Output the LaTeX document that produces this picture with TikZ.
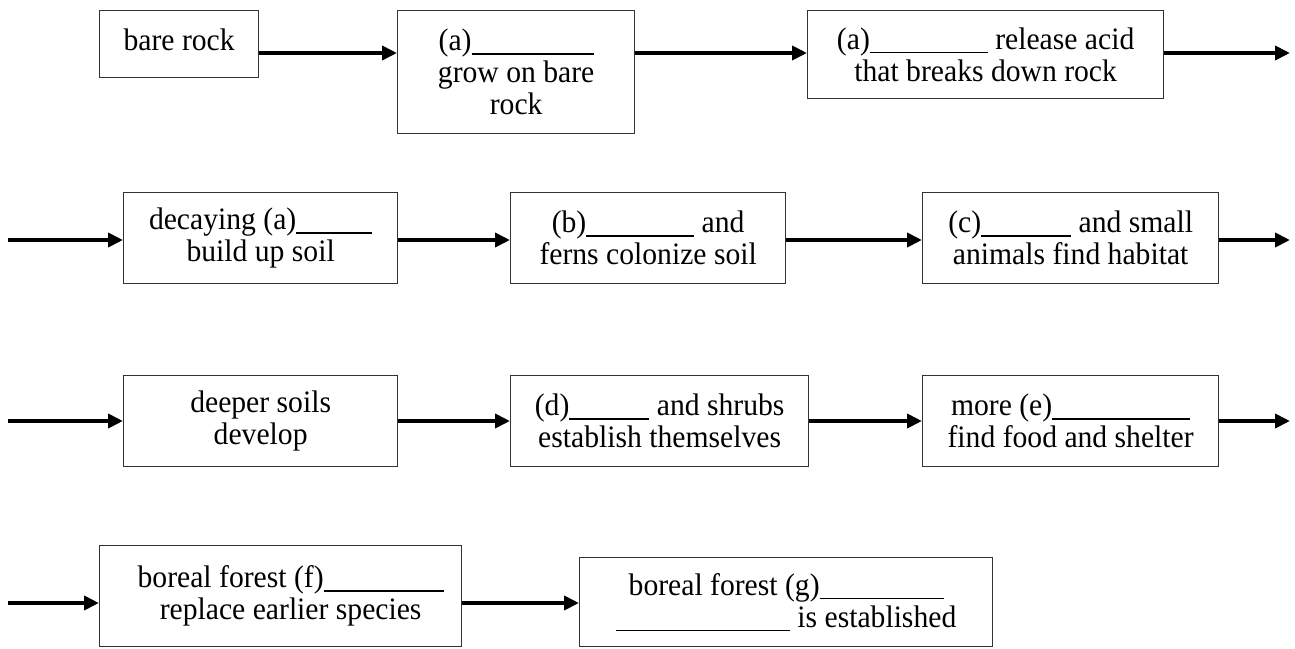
\documentclass[tikz,border=0pt]{standalone}
\usepackage{fontspec}
\setmainfont{Liberation Serif}[FakeStretch=0.95]
\usetikzlibrary{arrows.meta}
% fill-in blank of a given width (pt)
\newcommand\blank[1]{\rule[-4pt]{#1pt}{1.5pt}}
\begin{document}
\begin{tikzpicture}[x=1pt,y=-1pt,
  box/.style={draw=black!80, line width=1.3pt, anchor=north west, align=center,
    inner sep=0pt, font=\fontsize{31.2}{32}\selectfont},
  flow/.style={line width=3.8pt, -{Triangle[length=15pt,width=14pt]}}]
\useasboundingbox (0,0) rectangle (1295,648);

% row 1
\node[box, minimum width=159pt, minimum height=67pt] (b1) at (99,10)
  {\raisebox{9pt}{bare rock}};
\node[box, minimum width=237pt, minimum height=123pt] (b2) at (397,10)
  {(a)\blank{122}\\grow on bare\\rock};
\node[box, minimum width=356pt, minimum height=88pt] (b3) at (807,10)
  {(a)\blank{118} release acid\\that breaks down rock};

% row 2
\node[box, minimum width=274pt, minimum height=91pt] (b4) at (123,192)
  {decaying (a)\blank{76}\\build up soil};
\node[box, minimum width=275pt, minimum height=91pt] (b5) at (510,192)
  {(b)\blank{108} and\\ferns colonize soil};
\node[box, minimum width=296pt, minimum height=91pt] (b6) at (922,192)
  {(c)\blank{90} and small\\animals find habitat};

% row 3
\node[box, minimum width=274pt, minimum height=91pt] (b7) at (123,375)
  {deeper soils\\develop};
\node[box, minimum width=298pt, minimum height=91pt] (b8) at (510,375)
  {(d)\blank{80} and shrubs\\establish themselves};
\node[box, minimum width=296pt, minimum height=91pt] (b9) at (922,375)
  {more (e)\blank{138}\\find food and shelter};

% row 4
\node[box, minimum width=362pt, minimum height=101pt] (b10) at (99,545)
  {\hspace*{20pt}boreal forest (f)\blank{120}\\\hspace*{20pt}replace earlier species};
\node[box, minimum width=413pt, minimum height=89pt] (b11) at (579,557)
  {boreal forest (g)\blank{124}\\\blank{174} is established};

% row levels and free arrow ends
\coordinate (r1) at (0,53);
\coordinate (r2) at (0,240);
\coordinate (r3) at (0,421);
\coordinate (r4) at (0,603);
\coordinate (e1) at (1290,53);
\coordinate (s2) at (8,240);
\coordinate (e2) at (1290,240);
\coordinate (s3) at (8,421);
\coordinate (e3) at (1290,421);
\coordinate (s4) at (8,603);

% connectors
\draw[flow] (b1.east |- r1) -- (b2.west |- r1);
\draw[flow] (b2.east |- r1) -- (b3.west |- r1);
\draw[flow] (b3.east |- r1) -- (e1);

\draw[flow] (s2) -- (b4.west |- r2);
\draw[flow] (b4.east |- r2) -- (b5.west |- r2);
\draw[flow] (b5.east |- r2) -- (b6.west |- r2);
\draw[flow] (b6.east |- r2) -- (e2);

\draw[flow] (s3) -- (b7.west |- r3);
\draw[flow] (b7.east |- r3) -- (b8.west |- r3);
\draw[flow] (b8.east |- r3) -- (b9.west |- r3);
\draw[flow] (b9.east |- r3) -- (e3);

\draw[flow] (s4) -- (b10.west |- r4);
\draw[flow] (b10.east |- r4) -- (b11.west |- r4);
\end{tikzpicture}
\end{document}
